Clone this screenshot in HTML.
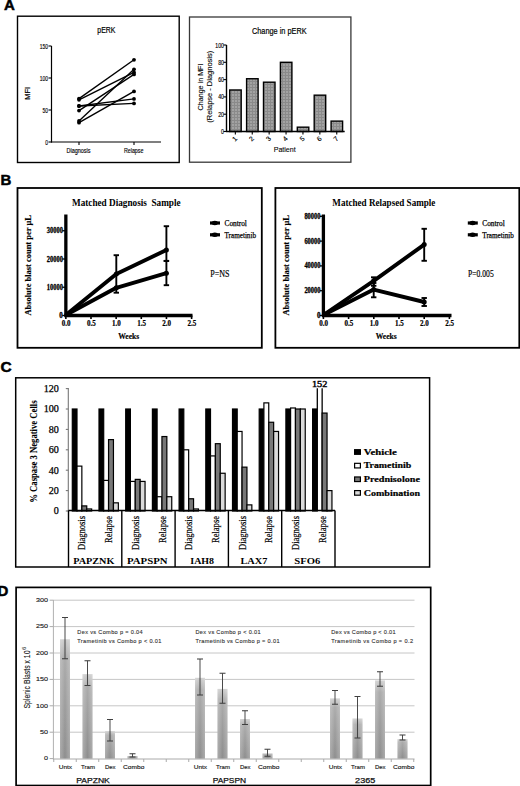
<!DOCTYPE html><html><head><meta charset="utf-8"><title>Figure</title><style>
html,body{margin:0;padding:0;background:#fff;width:520px;height:786px;overflow:hidden}
svg{display:block}
.S{font-family:"Liberation Sans",sans-serif}.R{font-family:"Liberation Serif",serif}
</style></head><body>
<svg width="520" height="786" viewBox="0 0 520 786">
<defs>
<pattern id="hatch" width="3" height="3" patternUnits="userSpaceOnUse"><rect width="3" height="3" fill="#a2a2a2"/><rect width="3" height="1" fill="#8a8a8a"/><rect width="1" height="3" fill="#8a8a8a"/></pattern>
<linearGradient id="dbar" x1="0" y1="0" x2="0" y2="1"><stop offset="0" stop-color="#cdcdcd"/><stop offset="0.15" stop-color="#ababab"/><stop offset="1" stop-color="#8e8e8e"/></linearGradient>
<linearGradient id="dbarh" x1="0" y1="0" x2="1" y2="0"><stop offset="0" stop-color="#fff" stop-opacity="0.25"/><stop offset="0.5" stop-color="#fff" stop-opacity="0"/><stop offset="1" stop-color="#fff" stop-opacity="0.25"/></linearGradient>
</defs>
<rect width="520" height="786" fill="#fff"/>
<text x="4.1" y="10.4" font-size="15" class="S" font-weight="bold" stroke="#000" stroke-width="0.5">A</text>
<rect x="17.5" y="16.2" width="161.7" height="146.3" fill="none" stroke="#000" stroke-width="1.4"/>
<text x="106.4" y="33.2" font-size="9.3" class="S" text-anchor="middle" textLength="18.2" lengthAdjust="spacingAndGlyphs" stroke="#000" stroke-width="0.2">pERK</text>
<line x1="51.5" y1="46" x2="51.5" y2="142.5" stroke="#000" stroke-width="1.2"/>
<line x1="48.5" y1="142.0" x2="51.5" y2="142.0" stroke="#000" stroke-width="1.1"/>
<text x="48" y="144.7" font-size="7.5" class="S" text-anchor="end" textLength="2.75" lengthAdjust="spacingAndGlyphs" stroke="#000" stroke-width="0.15">0</text>
<line x1="48.5" y1="110.0" x2="51.5" y2="110.0" stroke="#000" stroke-width="1.1"/>
<text x="48" y="112.7" font-size="7.5" class="S" text-anchor="end" textLength="5.5" lengthAdjust="spacingAndGlyphs" stroke="#000" stroke-width="0.15">50</text>
<line x1="48.5" y1="78.0" x2="51.5" y2="78.0" stroke="#000" stroke-width="1.1"/>
<text x="48" y="80.7" font-size="7.5" class="S" text-anchor="end" textLength="8.25" lengthAdjust="spacingAndGlyphs" stroke="#000" stroke-width="0.15">100</text>
<line x1="48.5" y1="46.0" x2="51.5" y2="46.0" stroke="#000" stroke-width="1.1"/>
<text x="48" y="48.7" font-size="7.5" class="S" text-anchor="end" textLength="8.25" lengthAdjust="spacingAndGlyphs" stroke="#000" stroke-width="0.15">150</text>
<line x1="51" y1="142" x2="161" y2="142" stroke="#000" stroke-width="1.2"/>
<line x1="79" y1="142" x2="79" y2="145" stroke="#000" stroke-width="1.1"/>
<line x1="134" y1="142" x2="134" y2="145" stroke="#000" stroke-width="1.1"/>
<text x="78.5" y="152.8" font-size="7" class="S" text-anchor="middle" textLength="24" lengthAdjust="spacingAndGlyphs" stroke="#000" stroke-width="0.15">Diagnosis</text>
<text x="133.7" y="152.8" font-size="7" class="S" text-anchor="middle" textLength="19.5" lengthAdjust="spacingAndGlyphs" stroke="#000" stroke-width="0.15">Relapse</text>
<text x="30.1" y="93.3" font-size="6.5" class="S" text-anchor="middle" textLength="12.7" lengthAdjust="spacingAndGlyphs" stroke="#000" stroke-width="0.2" transform="rotate(-90 30.1 93.3)">MFI</text>
<line x1="79" y1="98.6" x2="134" y2="59.8" stroke="#000" stroke-width="1.4"/>
<circle cx="79" cy="98.6" r="1.9" fill="#000"/>
<circle cx="134" cy="59.8" r="1.9" fill="#000"/>
<line x1="79" y1="99.8" x2="134" y2="72.4" stroke="#000" stroke-width="1.4"/>
<circle cx="79" cy="99.8" r="1.9" fill="#000"/>
<circle cx="134" cy="72.4" r="1.9" fill="#000"/>
<line x1="79" y1="121" x2="134" y2="69.3" stroke="#000" stroke-width="1.4"/>
<circle cx="79" cy="121" r="1.9" fill="#000"/>
<circle cx="134" cy="69.3" r="1.9" fill="#000"/>
<line x1="79" y1="106" x2="134" y2="98.9" stroke="#000" stroke-width="1.4"/>
<circle cx="79" cy="106" r="1.9" fill="#000"/>
<circle cx="134" cy="98.9" r="1.9" fill="#000"/>
<line x1="79" y1="106" x2="134" y2="103.4" stroke="#000" stroke-width="1.4"/>
<circle cx="79" cy="106" r="1.9" fill="#000"/>
<circle cx="134" cy="103.4" r="1.9" fill="#000"/>
<line x1="79" y1="110.6" x2="134" y2="74.4" stroke="#000" stroke-width="1.4"/>
<circle cx="79" cy="110.6" r="1.9" fill="#000"/>
<circle cx="134" cy="74.4" r="1.9" fill="#000"/>
<line x1="79" y1="122.7" x2="134" y2="91.4" stroke="#000" stroke-width="1.4"/>
<circle cx="79" cy="122.7" r="1.9" fill="#000"/>
<circle cx="134" cy="91.4" r="1.9" fill="#000"/>
<rect x="189.5" y="17" width="161.4" height="145.2" fill="none" stroke="#383838" stroke-width="1.3"/>
<text x="279.3" y="33.8" font-size="9.5" class="S" text-anchor="middle" textLength="54.6" lengthAdjust="spacingAndGlyphs" stroke="#000" stroke-width="0.2">Change in pERK</text>
<line x1="226.5" y1="45" x2="226.5" y2="132" stroke="#000" stroke-width="1.4"/>
<line x1="223.5" y1="131.5" x2="226.5" y2="131.5" stroke="#000" stroke-width="1.1"/>
<text x="224" y="134.0" font-size="7" class="S" text-anchor="end" textLength="2.9" lengthAdjust="spacingAndGlyphs" stroke="#000" stroke-width="0.15">0</text>
<line x1="223.5" y1="114.2" x2="226.5" y2="114.2" stroke="#000" stroke-width="1.1"/>
<text x="224" y="116.7" font-size="7" class="S" text-anchor="end" textLength="5.8" lengthAdjust="spacingAndGlyphs" stroke="#000" stroke-width="0.15">20</text>
<line x1="223.5" y1="96.9" x2="226.5" y2="96.9" stroke="#000" stroke-width="1.1"/>
<text x="224" y="99.4" font-size="7" class="S" text-anchor="end" textLength="5.8" lengthAdjust="spacingAndGlyphs" stroke="#000" stroke-width="0.15">40</text>
<line x1="223.5" y1="79.6" x2="226.5" y2="79.6" stroke="#000" stroke-width="1.1"/>
<text x="224" y="82.1" font-size="7" class="S" text-anchor="end" textLength="5.8" lengthAdjust="spacingAndGlyphs" stroke="#000" stroke-width="0.15">60</text>
<line x1="223.5" y1="62.3" x2="226.5" y2="62.3" stroke="#000" stroke-width="1.1"/>
<text x="224" y="64.8" font-size="7" class="S" text-anchor="end" textLength="5.8" lengthAdjust="spacingAndGlyphs" stroke="#000" stroke-width="0.15">80</text>
<line x1="223.5" y1="45.0" x2="226.5" y2="45.0" stroke="#000" stroke-width="1.1"/>
<text x="224" y="47.5" font-size="7" class="S" text-anchor="end" textLength="8.7" lengthAdjust="spacingAndGlyphs" stroke="#000" stroke-width="0.15">100</text>
<rect x="229.7" y="89.98" width="11.5" height="41.519999999999996" fill="url(#hatch)" stroke="#000" stroke-width="1.4"/>
<line x1="235.35" y1="131.5" x2="235.35" y2="134.5" stroke="#000" stroke-width="1.1"/>
<text x="236.25" y="140.5" font-size="6.8" class="S" text-anchor="middle" stroke="#000" stroke-width="0.15" transform="rotate(-45 236.25 140.5)">1</text>
<rect x="246.6" y="78.735" width="11.5" height="52.765" fill="url(#hatch)" stroke="#000" stroke-width="1.4"/>
<line x1="252.25" y1="131.5" x2="252.25" y2="134.5" stroke="#000" stroke-width="1.1"/>
<text x="253.15" y="140.5" font-size="6.8" class="S" text-anchor="middle" stroke="#000" stroke-width="0.15" transform="rotate(-45 253.15 140.5)">2</text>
<rect x="263.5" y="82.195" width="11.5" height="49.305" fill="url(#hatch)" stroke="#000" stroke-width="1.4"/>
<line x1="269.15000000000003" y1="131.5" x2="269.15000000000003" y2="134.5" stroke="#000" stroke-width="1.1"/>
<text x="270.05" y="140.5" font-size="6.8" class="S" text-anchor="middle" stroke="#000" stroke-width="0.15" transform="rotate(-45 270.05 140.5)">3</text>
<rect x="280.4" y="62.3" width="11.5" height="69.2" fill="url(#hatch)" stroke="#000" stroke-width="1.4"/>
<line x1="286.05" y1="131.5" x2="286.05" y2="134.5" stroke="#000" stroke-width="1.1"/>
<text x="286.95" y="140.5" font-size="6.8" class="S" text-anchor="middle" stroke="#000" stroke-width="0.15" transform="rotate(-45 286.95 140.5)">4</text>
<rect x="297.3" y="127.175" width="11.5" height="4.325" fill="url(#hatch)" stroke="#000" stroke-width="1.4"/>
<line x1="302.95000000000005" y1="131.5" x2="302.95000000000005" y2="134.5" stroke="#000" stroke-width="1.1"/>
<text x="303.85" y="140.5" font-size="6.8" class="S" text-anchor="middle" stroke="#000" stroke-width="0.15" transform="rotate(-45 303.85 140.5)">5</text>
<rect x="314.2" y="95.17" width="11.5" height="36.33" fill="url(#hatch)" stroke="#000" stroke-width="1.4"/>
<line x1="319.85" y1="131.5" x2="319.85" y2="134.5" stroke="#000" stroke-width="1.1"/>
<text x="320.75" y="140.5" font-size="6.8" class="S" text-anchor="middle" stroke="#000" stroke-width="0.15" transform="rotate(-45 320.75 140.5)">6</text>
<rect x="331.09999999999997" y="121.12" width="11.5" height="10.379999999999999" fill="url(#hatch)" stroke="#000" stroke-width="1.4"/>
<line x1="336.75" y1="131.5" x2="336.75" y2="134.5" stroke="#000" stroke-width="1.1"/>
<text x="337.65" y="140.5" font-size="6.8" class="S" text-anchor="middle" stroke="#000" stroke-width="0.15" transform="rotate(-45 337.65 140.5)">7</text>
<line x1="226" y1="131.5" x2="344.7" y2="131.5" stroke="#000" stroke-width="1.4"/>
<text x="284.7" y="152" font-size="8" class="S" text-anchor="middle" textLength="22" lengthAdjust="spacingAndGlyphs" stroke="#000" stroke-width="0.1">Patient</text>
<text x="203" y="87" font-size="7.6" class="S" text-anchor="middle" textLength="47" lengthAdjust="spacingAndGlyphs" stroke="#000" stroke-width="0.1" transform="rotate(-90 203 87)">Change in MFI</text>
<text x="211.5" y="86.75" font-size="7.6" class="S" text-anchor="middle" textLength="72" lengthAdjust="spacingAndGlyphs" stroke="#000" stroke-width="0.1" transform="rotate(-90 211.5 86.75)">(Relapse - Diagnosis)</text>
<text x="0.5" y="185.2" font-size="15" class="S" font-weight="bold" stroke="#000" stroke-width="0.5">B</text>
<rect x="17.5" y="188" width="244.3" height="159.8" fill="none" stroke="#000" stroke-width="1.8"/>
<text x="126.3" y="205.5" font-size="10.5" class="R" font-weight="bold" text-anchor="middle" textLength="108.6" lengthAdjust="spacingAndGlyphs" xml:space="preserve">Matched Diagnosis  Sample</text>
<line x1="65.85" y1="214.5" x2="65.85" y2="316.5" stroke="#000" stroke-width="3.3"/>
<line x1="62.349999999999994" y1="315.5" x2="65.85" y2="315.5" stroke="#000" stroke-width="1.3"/>
<text x="62.849999999999994" y="318.0" font-size="7.4" class="R" font-weight="bold" text-anchor="end" textLength="3.5" lengthAdjust="spacingAndGlyphs" stroke="#000" stroke-width="0.3">0</text>
<line x1="62.349999999999994" y1="287.25" x2="65.85" y2="287.25" stroke="#000" stroke-width="1.3"/>
<text x="62.849999999999994" y="289.75" font-size="7.4" class="R" font-weight="bold" text-anchor="end" textLength="16.0" lengthAdjust="spacingAndGlyphs" stroke="#000" stroke-width="0.3">10000</text>
<line x1="62.349999999999994" y1="259.0" x2="65.85" y2="259.0" stroke="#000" stroke-width="1.3"/>
<text x="62.849999999999994" y="261.5" font-size="7.4" class="R" font-weight="bold" text-anchor="end" textLength="16.0" lengthAdjust="spacingAndGlyphs" stroke="#000" stroke-width="0.3">20000</text>
<line x1="62.349999999999994" y1="230.75" x2="65.85" y2="230.75" stroke="#000" stroke-width="1.3"/>
<text x="62.849999999999994" y="233.25" font-size="7.4" class="R" font-weight="bold" text-anchor="end" textLength="16.0" lengthAdjust="spacingAndGlyphs" stroke="#000" stroke-width="0.3">30000</text>
<line x1="64.35" y1="315.5" x2="192.5" y2="315.5" stroke="#000" stroke-width="3.3"/>
<line x1="65.85" y1="315.5" x2="65.85" y2="319.0" stroke="#000" stroke-width="1.6"/>
<text x="66.14999999999999" y="326.3" font-size="7.8" class="R" font-weight="bold" text-anchor="middle" textLength="8.8" lengthAdjust="spacingAndGlyphs" stroke="#000" stroke-width="0.2">0.0</text>
<line x1="91.0" y1="315.5" x2="91.0" y2="319.0" stroke="#000" stroke-width="1.6"/>
<text x="91.3" y="326.3" font-size="7.8" class="R" font-weight="bold" text-anchor="middle" textLength="8.8" lengthAdjust="spacingAndGlyphs" stroke="#000" stroke-width="0.2">0.5</text>
<line x1="116.14999999999999" y1="315.5" x2="116.14999999999999" y2="319.0" stroke="#000" stroke-width="1.6"/>
<text x="116.44999999999999" y="326.3" font-size="7.8" class="R" font-weight="bold" text-anchor="middle" textLength="8.8" lengthAdjust="spacingAndGlyphs" stroke="#000" stroke-width="0.2">1.0</text>
<line x1="141.29999999999998" y1="315.5" x2="141.29999999999998" y2="319.0" stroke="#000" stroke-width="1.6"/>
<text x="141.6" y="326.3" font-size="7.8" class="R" font-weight="bold" text-anchor="middle" textLength="8.8" lengthAdjust="spacingAndGlyphs" stroke="#000" stroke-width="0.2">1.5</text>
<line x1="166.45" y1="315.5" x2="166.45" y2="319.0" stroke="#000" stroke-width="1.6"/>
<text x="166.75" y="326.3" font-size="7.8" class="R" font-weight="bold" text-anchor="middle" textLength="8.8" lengthAdjust="spacingAndGlyphs" stroke="#000" stroke-width="0.2">2.0</text>
<line x1="191.6" y1="315.5" x2="191.6" y2="319.0" stroke="#000" stroke-width="1.6"/>
<text x="191.9" y="326.3" font-size="7.8" class="R" font-weight="bold" text-anchor="middle" textLength="8.8" lengthAdjust="spacingAndGlyphs" stroke="#000" stroke-width="0.2">2.5</text>
<text x="128.64999999999998" y="338.5" font-size="7.5" class="R" font-weight="bold" text-anchor="middle" textLength="21" lengthAdjust="spacingAndGlyphs" stroke="#000" stroke-width="0.15">Weeks</text>
<path d="M65.85,315 L116.3,274 L166.4,250" fill="none" stroke="#000" stroke-width="3.9" stroke-linejoin="round"/>
<circle cx="116.3" cy="274" r="2.5" fill="#000"/>
<circle cx="166.4" cy="250" r="2.5" fill="#000"/>
<path d="M65.85,315 L116.3,287.8 L166.4,273.2" fill="none" stroke="#000" stroke-width="3.9" stroke-linejoin="round"/>
<circle cx="116.3" cy="287.8" r="2.5" fill="#000"/>
<circle cx="166.4" cy="273.2" r="2.5" fill="#000"/>
<line x1="116.3" y1="255.2" x2="116.3" y2="292.7" stroke="#000" stroke-width="1.9"/>
<line x1="113.6" y1="255.2" x2="119.0" y2="255.2" stroke="#000" stroke-width="1.9"/>
<line x1="113.6" y1="292.7" x2="119.0" y2="292.7" stroke="#000" stroke-width="1.9"/>
<line x1="166.4" y1="226.2" x2="166.4" y2="260.9" stroke="#000" stroke-width="1.9"/>
<line x1="163.70000000000002" y1="226.2" x2="169.1" y2="226.2" stroke="#000" stroke-width="1.9"/>
<line x1="163.70000000000002" y1="260.9" x2="169.1" y2="260.9" stroke="#000" stroke-width="1.9"/>
<line x1="166.4" y1="260.9" x2="166.4" y2="285.2" stroke="#000" stroke-width="1.9"/>
<line x1="163.70000000000002" y1="260.9" x2="169.1" y2="260.9" stroke="#000" stroke-width="1.9"/>
<line x1="163.70000000000002" y1="285.2" x2="169.1" y2="285.2" stroke="#000" stroke-width="1.9"/>
<line x1="210" y1="223" x2="220" y2="223" stroke="#000" stroke-width="3.2"/>
<ellipse cx="214.8" cy="223" rx="3" ry="2.2" fill="#000"/>
<text x="224.5" y="225.8" font-size="8" class="R" textLength="22.4" lengthAdjust="spacingAndGlyphs" stroke="#000" stroke-width="0.25">Control</text>
<line x1="210" y1="234.8" x2="220" y2="234.8" stroke="#000" stroke-width="3.2"/>
<ellipse cx="214.8" cy="234.8" rx="3" ry="2.2" fill="#000"/>
<text x="224.5" y="237.60000000000002" font-size="8" class="R" textLength="31.5" lengthAdjust="spacingAndGlyphs" stroke="#000" stroke-width="0.25">Trametinib</text>
<text x="210.2" y="276.8" font-size="10.3" class="R" textLength="19.2" lengthAdjust="spacingAndGlyphs" stroke="#000" stroke-width="0.2">P=NS</text>
<text x="30.6" y="265.3" font-size="7.6" class="R" font-weight="bold" text-anchor="middle" textLength="100.5" lengthAdjust="spacingAndGlyphs" stroke="#000" stroke-width="0.15" transform="rotate(-90 30.6 265.3)">Absolute blast count per µL</text>
<rect x="275.4" y="188" width="243.89999999999998" height="159.8" fill="none" stroke="#000" stroke-width="1.8"/>
<text x="383.85" y="205.5" font-size="10.5" class="R" font-weight="bold" text-anchor="middle" textLength="103.09999999999997" lengthAdjust="spacingAndGlyphs" xml:space="preserve">Matched Relapsed Sample</text>
<line x1="323.4" y1="214.5" x2="323.4" y2="316.5" stroke="#000" stroke-width="3.3"/>
<line x1="319.9" y1="315.5" x2="323.4" y2="315.5" stroke="#000" stroke-width="1.3"/>
<text x="320.4" y="318.0" font-size="7.4" class="R" font-weight="bold" text-anchor="end" textLength="3.5" lengthAdjust="spacingAndGlyphs" stroke="#000" stroke-width="0.3">0</text>
<line x1="319.9" y1="290.7" x2="323.4" y2="290.7" stroke="#000" stroke-width="1.3"/>
<text x="320.4" y="293.2" font-size="7.4" class="R" font-weight="bold" text-anchor="end" textLength="16.0" lengthAdjust="spacingAndGlyphs" stroke="#000" stroke-width="0.3">20000</text>
<line x1="319.9" y1="265.9" x2="323.4" y2="265.9" stroke="#000" stroke-width="1.3"/>
<text x="320.4" y="268.4" font-size="7.4" class="R" font-weight="bold" text-anchor="end" textLength="16.0" lengthAdjust="spacingAndGlyphs" stroke="#000" stroke-width="0.3">40000</text>
<line x1="319.9" y1="241.1" x2="323.4" y2="241.1" stroke="#000" stroke-width="1.3"/>
<text x="320.4" y="243.6" font-size="7.4" class="R" font-weight="bold" text-anchor="end" textLength="16.0" lengthAdjust="spacingAndGlyphs" stroke="#000" stroke-width="0.3">60000</text>
<line x1="319.9" y1="216.3" x2="323.4" y2="216.3" stroke="#000" stroke-width="1.3"/>
<text x="320.4" y="218.8" font-size="7.4" class="R" font-weight="bold" text-anchor="end" textLength="16.0" lengthAdjust="spacingAndGlyphs" stroke="#000" stroke-width="0.3">80000</text>
<line x1="321.9" y1="315.5" x2="451.5" y2="315.5" stroke="#000" stroke-width="3.3"/>
<line x1="323.4" y1="315.5" x2="323.4" y2="319.0" stroke="#000" stroke-width="1.6"/>
<text x="323.7" y="326.3" font-size="7.8" class="R" font-weight="bold" text-anchor="middle" textLength="8.8" lengthAdjust="spacingAndGlyphs" stroke="#000" stroke-width="0.2">0.0</text>
<line x1="348.59999999999997" y1="315.5" x2="348.59999999999997" y2="319.0" stroke="#000" stroke-width="1.6"/>
<text x="348.9" y="326.3" font-size="7.8" class="R" font-weight="bold" text-anchor="middle" textLength="8.8" lengthAdjust="spacingAndGlyphs" stroke="#000" stroke-width="0.2">0.5</text>
<line x1="373.79999999999995" y1="315.5" x2="373.79999999999995" y2="319.0" stroke="#000" stroke-width="1.6"/>
<text x="374.09999999999997" y="326.3" font-size="7.8" class="R" font-weight="bold" text-anchor="middle" textLength="8.8" lengthAdjust="spacingAndGlyphs" stroke="#000" stroke-width="0.2">1.0</text>
<line x1="399.0" y1="315.5" x2="399.0" y2="319.0" stroke="#000" stroke-width="1.6"/>
<text x="399.3" y="326.3" font-size="7.8" class="R" font-weight="bold" text-anchor="middle" textLength="8.8" lengthAdjust="spacingAndGlyphs" stroke="#000" stroke-width="0.2">1.5</text>
<line x1="424.2" y1="315.5" x2="424.2" y2="319.0" stroke="#000" stroke-width="1.6"/>
<text x="424.5" y="326.3" font-size="7.8" class="R" font-weight="bold" text-anchor="middle" textLength="8.8" lengthAdjust="spacingAndGlyphs" stroke="#000" stroke-width="0.2">2.0</text>
<line x1="449.4" y1="315.5" x2="449.4" y2="319.0" stroke="#000" stroke-width="1.6"/>
<text x="449.7" y="326.3" font-size="7.8" class="R" font-weight="bold" text-anchor="middle" textLength="8.8" lengthAdjust="spacingAndGlyphs" stroke="#000" stroke-width="0.2">2.5</text>
<text x="386.2" y="338.5" font-size="7.5" class="R" font-weight="bold" text-anchor="middle" textLength="21" lengthAdjust="spacingAndGlyphs" stroke="#000" stroke-width="0.15">Weeks</text>
<path d="M323.4,315 L373.7,280.8 L424.2,244.6" fill="none" stroke="#000" stroke-width="3.9" stroke-linejoin="round"/>
<circle cx="373.7" cy="280.8" r="2.5" fill="#000"/>
<circle cx="424.2" cy="244.6" r="2.5" fill="#000"/>
<path d="M323.4,315 L373.7,289.6 L424.2,302" fill="none" stroke="#000" stroke-width="3.9" stroke-linejoin="round"/>
<circle cx="373.7" cy="289.6" r="2.5" fill="#000"/>
<circle cx="424.2" cy="302" r="2.5" fill="#000"/>
<line x1="373.7" y1="277.3" x2="373.7" y2="285.8" stroke="#000" stroke-width="1.9"/>
<line x1="371.0" y1="277.3" x2="376.4" y2="277.3" stroke="#000" stroke-width="1.9"/>
<line x1="371.0" y1="285.8" x2="376.4" y2="285.8" stroke="#000" stroke-width="1.9"/>
<line x1="424.2" y1="228.8" x2="424.2" y2="260.8" stroke="#000" stroke-width="1.9"/>
<line x1="421.5" y1="228.8" x2="426.9" y2="228.8" stroke="#000" stroke-width="1.9"/>
<line x1="421.5" y1="260.8" x2="426.9" y2="260.8" stroke="#000" stroke-width="1.9"/>
<line x1="373.7" y1="283" x2="373.7" y2="297.3" stroke="#000" stroke-width="1.9"/>
<line x1="371.0" y1="283" x2="376.4" y2="283" stroke="#000" stroke-width="1.9"/>
<line x1="371.0" y1="297.3" x2="376.4" y2="297.3" stroke="#000" stroke-width="1.9"/>
<line x1="424.2" y1="298" x2="424.2" y2="306" stroke="#000" stroke-width="1.9"/>
<line x1="421.5" y1="298" x2="426.9" y2="298" stroke="#000" stroke-width="1.9"/>
<line x1="421.5" y1="306" x2="426.9" y2="306" stroke="#000" stroke-width="1.9"/>
<line x1="467.8" y1="223" x2="477.8" y2="223" stroke="#000" stroke-width="3.2"/>
<ellipse cx="472.6" cy="223" rx="3" ry="2.2" fill="#000"/>
<text x="482.3" y="225.8" font-size="8" class="R" textLength="22.4" lengthAdjust="spacingAndGlyphs" stroke="#000" stroke-width="0.25">Control</text>
<line x1="467.8" y1="234.8" x2="477.8" y2="234.8" stroke="#000" stroke-width="3.2"/>
<ellipse cx="472.6" cy="234.8" rx="3" ry="2.2" fill="#000"/>
<text x="482.3" y="237.60000000000002" font-size="8" class="R" textLength="31.5" lengthAdjust="spacingAndGlyphs" stroke="#000" stroke-width="0.25">Trametinib</text>
<text x="468.0" y="276.8" font-size="10.3" class="R" textLength="25.7" lengthAdjust="spacingAndGlyphs" stroke="#000" stroke-width="0.2">P=0.005</text>
<text x="288.6" y="265.3" font-size="7.6" class="R" font-weight="bold" text-anchor="middle" textLength="100.5" lengthAdjust="spacingAndGlyphs" stroke="#000" stroke-width="0.15" transform="rotate(-90 288.6 265.3)">Absolute blast count per µL</text>
<text x="0.6" y="371.5" font-size="15.5" class="S" font-weight="bold" stroke="#000" stroke-width="0.5">C</text>
<rect x="15.7" y="377.8" width="413.9" height="189.2" fill="none" stroke="#000" stroke-width="1.5"/>
<line x1="68.3" y1="388" x2="68.3" y2="511" stroke="#777" stroke-width="1.1"/>
<line x1="65.8" y1="511.0" x2="68.3" y2="511.0" stroke="#777" stroke-width="1.1"/>
<text x="58.8" y="514.4" font-size="10" class="R" text-anchor="end" textLength="5.05" lengthAdjust="spacingAndGlyphs" stroke="#000" stroke-width="0.25">0</text>
<line x1="65.8" y1="490.6" x2="68.3" y2="490.6" stroke="#777" stroke-width="1.1"/>
<text x="58.8" y="494.0" font-size="10" class="R" text-anchor="end" textLength="10.1" lengthAdjust="spacingAndGlyphs" stroke="#000" stroke-width="0.25">20</text>
<line x1="65.8" y1="470.2" x2="68.3" y2="470.2" stroke="#777" stroke-width="1.1"/>
<text x="58.8" y="473.59999999999997" font-size="10" class="R" text-anchor="end" textLength="10.1" lengthAdjust="spacingAndGlyphs" stroke="#000" stroke-width="0.25">40</text>
<line x1="65.8" y1="449.8" x2="68.3" y2="449.8" stroke="#777" stroke-width="1.1"/>
<text x="58.8" y="453.2" font-size="10" class="R" text-anchor="end" textLength="10.1" lengthAdjust="spacingAndGlyphs" stroke="#000" stroke-width="0.25">60</text>
<line x1="65.8" y1="429.4" x2="68.3" y2="429.4" stroke="#777" stroke-width="1.1"/>
<text x="58.8" y="432.79999999999995" font-size="10" class="R" text-anchor="end" textLength="10.1" lengthAdjust="spacingAndGlyphs" stroke="#000" stroke-width="0.25">80</text>
<line x1="65.8" y1="409.0" x2="68.3" y2="409.0" stroke="#777" stroke-width="1.1"/>
<text x="58.8" y="412.4" font-size="10" class="R" text-anchor="end" textLength="15.149999999999999" lengthAdjust="spacingAndGlyphs" stroke="#000" stroke-width="0.25">100</text>
<line x1="65.8" y1="388.6" x2="68.3" y2="388.6" stroke="#777" stroke-width="1.1"/>
<text x="58.8" y="392.0" font-size="10" class="R" text-anchor="end" textLength="15.149999999999999" lengthAdjust="spacingAndGlyphs" stroke="#000" stroke-width="0.25">120</text>
<rect x="72.3" y="409.0" width="4.700000000000003" height="102.0" fill="#000" stroke="#000" stroke-width="1.2"/>
<rect x="77.0" y="466.12" width="4.8500000000000085" height="44.879999999999995" fill="#fff" stroke="#000" stroke-width="1.2"/>
<rect x="81.85000000000001" y="505.9" width="4.8999999999999915" height="5.100000000000023" fill="#787878" stroke="#000" stroke-width="1.2"/>
<rect x="86.75" y="508.96" width="4.900000000000006" height="2.0400000000000205" fill="#dadada" stroke="#000" stroke-width="1.2"/>
<text x="85.4" y="516" font-size="9.5" class="R" text-anchor="end" textLength="34" lengthAdjust="spacingAndGlyphs" stroke="#000" stroke-width="0.2" transform="rotate(-90 85.4 516)">Diagnosis</text>
<rect x="99.0" y="409.0" width="4.700000000000003" height="102.0" fill="#000" stroke="#000" stroke-width="1.2"/>
<rect x="103.7" y="480.4" width="4.8500000000000085" height="30.600000000000023" fill="#fff" stroke="#000" stroke-width="1.2"/>
<rect x="108.55000000000001" y="439.6" width="4.8999999999999915" height="71.39999999999998" fill="#787878" stroke="#000" stroke-width="1.2"/>
<rect x="113.45" y="502.84" width="4.900000000000006" height="8.160000000000025" fill="#dadada" stroke="#000" stroke-width="1.2"/>
<text x="112.10000000000001" y="516" font-size="9.5" class="R" text-anchor="end" textLength="27" lengthAdjust="spacingAndGlyphs" stroke="#000" stroke-width="0.2" transform="rotate(-90 112.10000000000001 516)">Relapse</text>
<rect x="125.69999999999999" y="409.0" width="4.700000000000017" height="102.0" fill="#000" stroke="#000" stroke-width="1.2"/>
<rect x="130.4" y="481.42" width="4.849999999999994" height="29.579999999999984" fill="#fff" stroke="#000" stroke-width="1.2"/>
<rect x="135.25" y="479.38" width="4.900000000000006" height="31.620000000000005" fill="#787878" stroke="#000" stroke-width="1.2"/>
<rect x="140.15" y="481.42" width="4.899999999999977" height="29.579999999999984" fill="#dadada" stroke="#000" stroke-width="1.2"/>
<text x="138.79999999999998" y="516" font-size="9.5" class="R" text-anchor="end" textLength="34" lengthAdjust="spacingAndGlyphs" stroke="#000" stroke-width="0.2" transform="rotate(-90 138.79999999999998 516)">Diagnosis</text>
<rect x="152.4" y="409.0" width="4.700000000000017" height="102.0" fill="#000" stroke="#000" stroke-width="1.2"/>
<rect x="157.10000000000002" y="496.72" width="4.849999999999994" height="14.279999999999973" fill="#fff" stroke="#000" stroke-width="1.2"/>
<rect x="161.95000000000002" y="436.53999999999996" width="4.900000000000006" height="74.46000000000004" fill="#787878" stroke="#000" stroke-width="1.2"/>
<rect x="166.85000000000002" y="496.72" width="4.899999999999977" height="14.279999999999973" fill="#dadada" stroke="#000" stroke-width="1.2"/>
<text x="165.5" y="516" font-size="9.5" class="R" text-anchor="end" textLength="27" lengthAdjust="spacingAndGlyphs" stroke="#000" stroke-width="0.2" transform="rotate(-90 165.5 516)">Relapse</text>
<rect x="179.1" y="409.0" width="4.700000000000017" height="102.0" fill="#000" stroke="#000" stroke-width="1.2"/>
<rect x="183.8" y="449.8" width="4.849999999999994" height="61.19999999999999" fill="#fff" stroke="#000" stroke-width="1.2"/>
<rect x="188.65" y="498.76" width="4.900000000000006" height="12.240000000000009" fill="#787878" stroke="#000" stroke-width="1.2"/>
<rect x="193.55" y="508.96" width="4.899999999999977" height="2.0400000000000205" fill="#dadada" stroke="#000" stroke-width="1.2"/>
<text x="192.2" y="516" font-size="9.5" class="R" text-anchor="end" textLength="34" lengthAdjust="spacingAndGlyphs" stroke="#000" stroke-width="0.2" transform="rotate(-90 192.2 516)">Diagnosis</text>
<rect x="205.79999999999998" y="409.0" width="4.700000000000017" height="102.0" fill="#000" stroke="#000" stroke-width="1.2"/>
<rect x="210.5" y="455.92" width="4.849999999999994" height="55.079999999999984" fill="#fff" stroke="#000" stroke-width="1.2"/>
<rect x="215.35" y="443.68" width="4.900000000000006" height="67.32" fill="#787878" stroke="#000" stroke-width="1.2"/>
<rect x="220.25" y="473.26" width="4.899999999999977" height="37.74000000000001" fill="#dadada" stroke="#000" stroke-width="1.2"/>
<text x="218.89999999999998" y="516" font-size="9.5" class="R" text-anchor="end" textLength="27" lengthAdjust="spacingAndGlyphs" stroke="#000" stroke-width="0.2" transform="rotate(-90 218.89999999999998 516)">Relapse</text>
<rect x="232.49999999999997" y="409.0" width="4.700000000000017" height="102.0" fill="#000" stroke="#000" stroke-width="1.2"/>
<rect x="237.2" y="431.44" width="4.849999999999994" height="79.56" fill="#fff" stroke="#000" stroke-width="1.2"/>
<rect x="242.04999999999998" y="467.14" width="4.900000000000006" height="43.860000000000014" fill="#787878" stroke="#000" stroke-width="1.2"/>
<rect x="246.95" y="504.88" width="4.899999999999977" height="6.1200000000000045" fill="#dadada" stroke="#000" stroke-width="1.2"/>
<text x="245.59999999999997" y="516" font-size="9.5" class="R" text-anchor="end" textLength="34" lengthAdjust="spacingAndGlyphs" stroke="#000" stroke-width="0.2" transform="rotate(-90 245.59999999999997 516)">Diagnosis</text>
<rect x="259.20000000000005" y="409.0" width="4.699999999999989" height="102.0" fill="#000" stroke="#000" stroke-width="1.2"/>
<rect x="263.90000000000003" y="402.88" width="4.849999999999966" height="108.12" fill="#fff" stroke="#000" stroke-width="1.2"/>
<rect x="268.75" y="422.26" width="4.900000000000034" height="88.74000000000001" fill="#787878" stroke="#000" stroke-width="1.2"/>
<rect x="273.65000000000003" y="431.44" width="4.899999999999977" height="79.56" fill="#dadada" stroke="#000" stroke-width="1.2"/>
<text x="272.3" y="516" font-size="9.5" class="R" text-anchor="end" textLength="27" lengthAdjust="spacingAndGlyphs" stroke="#000" stroke-width="0.2" transform="rotate(-90 272.3 516)">Relapse</text>
<rect x="285.90000000000003" y="409.0" width="4.699999999999989" height="102.0" fill="#000" stroke="#000" stroke-width="1.2"/>
<rect x="290.6" y="407.98" width="4.849999999999966" height="103.01999999999998" fill="#fff" stroke="#000" stroke-width="1.2"/>
<rect x="295.45" y="409.0" width="4.900000000000034" height="102.0" fill="#787878" stroke="#000" stroke-width="1.2"/>
<rect x="300.35" y="409.0" width="4.899999999999977" height="102.0" fill="#dadada" stroke="#000" stroke-width="1.2"/>
<text x="299.0" y="516" font-size="9.5" class="R" text-anchor="end" textLength="34" lengthAdjust="spacingAndGlyphs" stroke="#000" stroke-width="0.2" transform="rotate(-90 299.0 516)">Diagnosis</text>
<rect x="312.6" y="409.0" width="4.699999999999989" height="102.0" fill="#000" stroke="#000" stroke-width="1.2"/>
<rect x="317.3" y="388.5" width="4.849999999999966" height="122.5" fill="#fff" stroke="none" stroke-width="1"/>
<line x1="317.3" y1="388.3" x2="317.3" y2="511" stroke="#000" stroke-width="1.3"/>
<line x1="322.15" y1="388.3" x2="322.15" y2="511" stroke="#000" stroke-width="1.3"/>
<rect x="322.15" y="413.08" width="4.900000000000034" height="97.92000000000002" fill="#787878" stroke="#000" stroke-width="1.2"/>
<rect x="327.05" y="490.6" width="4.899999999999977" height="20.399999999999977" fill="#dadada" stroke="#000" stroke-width="1.2"/>
<text x="325.7" y="516" font-size="9.5" class="R" text-anchor="end" textLength="27" lengthAdjust="spacingAndGlyphs" stroke="#000" stroke-width="0.2" transform="rotate(-90 325.7 516)">Relapse</text>
<text x="319.6" y="386.7" font-size="8.8" class="R" text-anchor="middle" textLength="15.4" lengthAdjust="spacingAndGlyphs" stroke="#000" stroke-width="0.4">152</text>
<line x1="68.5" y1="510.5" x2="335" y2="510.5" stroke="#000" stroke-width="1.4"/>
<line x1="68.5" y1="510.5" x2="68.5" y2="567" stroke="#000" stroke-width="1.4"/>
<line x1="121.8" y1="510.5" x2="121.8" y2="567" stroke="#000" stroke-width="1.4"/>
<line x1="175.1" y1="510.5" x2="175.1" y2="567" stroke="#000" stroke-width="1.4"/>
<line x1="228.39999999999998" y1="510.5" x2="228.39999999999998" y2="567" stroke="#000" stroke-width="1.4"/>
<line x1="281.7" y1="510.5" x2="281.7" y2="567" stroke="#000" stroke-width="1.4"/>
<line x1="335.0" y1="510.5" x2="335.0" y2="567" stroke="#000" stroke-width="1.4"/>
<text x="93.8" y="564.4" font-size="8.6" class="R" font-weight="bold" text-anchor="middle" textLength="41.2" lengthAdjust="spacingAndGlyphs">PAPZNK</text>
<text x="147.3" y="564.4" font-size="8.6" class="R" font-weight="bold" text-anchor="middle" textLength="40.5" lengthAdjust="spacingAndGlyphs">PAPSPN</text>
<text x="202.2" y="564.4" font-size="8.6" class="R" font-weight="bold" text-anchor="middle" textLength="23.8" lengthAdjust="spacingAndGlyphs">IAH8</text>
<text x="253.9" y="564.4" font-size="8.6" class="R" font-weight="bold" text-anchor="middle" textLength="27" lengthAdjust="spacingAndGlyphs">LAX7</text>
<text x="307.3" y="564.4" font-size="8.6" class="R" font-weight="bold" text-anchor="middle" textLength="26" lengthAdjust="spacingAndGlyphs">SFO6</text>
<text x="37.2" y="451.6" font-size="9.6" class="R" font-weight="bold" text-anchor="middle" textLength="102.3" lengthAdjust="spacingAndGlyphs" stroke="#000" stroke-width="0.1" transform="rotate(-90 37.2 451.6)">% Caspase 3 Negative Cells</text>
<rect x="354.6" y="449.7" width="5.8" height="4.6" fill="#000" stroke="#000" stroke-width="1.2"/>
<text x="363.7" y="454.7" font-size="8.2" class="R" font-weight="bold" textLength="33.2" lengthAdjust="spacingAndGlyphs" stroke="#000" stroke-width="0.2">Vehicle</text>
<rect x="354.6" y="463.33" width="5.8" height="4.6" fill="#fff" stroke="#000" stroke-width="1.2"/>
<text x="363.7" y="468.33" font-size="8.2" class="R" font-weight="bold" textLength="47.6" lengthAdjust="spacingAndGlyphs" stroke="#000" stroke-width="0.2">Trametinib</text>
<rect x="354.6" y="476.96" width="5.8" height="4.6" fill="#787878" stroke="#000" stroke-width="1.2"/>
<text x="363.7" y="481.96" font-size="8.2" class="R" font-weight="bold" textLength="56.3" lengthAdjust="spacingAndGlyphs" stroke="#000" stroke-width="0.2">Prednisolone</text>
<rect x="354.6" y="490.59" width="5.8" height="4.6" fill="#dadada" stroke="#000" stroke-width="1.2"/>
<text x="363.7" y="495.59" font-size="8.2" class="R" font-weight="bold" textLength="56.3" lengthAdjust="spacingAndGlyphs" stroke="#000" stroke-width="0.2">Combination</text>
<text x="-2.4" y="596.4" font-size="15" class="S" font-weight="bold" stroke="#000" stroke-width="0.5">D</text>
<rect x="16.1" y="587.4" width="414.6" height="198.1" fill="none" stroke="#000" stroke-width="1.7"/>
<line x1="53.5" y1="732.2" x2="414.5" y2="732.2" stroke="#c6c6c6" stroke-width="1"/>
<line x1="53.5" y1="705.8000000000001" x2="414.5" y2="705.8000000000001" stroke="#c6c6c6" stroke-width="1"/>
<line x1="53.5" y1="679.4" x2="414.5" y2="679.4" stroke="#c6c6c6" stroke-width="1"/>
<line x1="53.5" y1="653.0" x2="414.5" y2="653.0" stroke="#c6c6c6" stroke-width="1"/>
<line x1="53.5" y1="626.6" x2="414.5" y2="626.6" stroke="#c6c6c6" stroke-width="1"/>
<line x1="53.5" y1="600.2" x2="414.5" y2="600.2" stroke="#c6c6c6" stroke-width="1"/>
<line x1="49.6" y1="758.6" x2="53.5" y2="758.6" stroke="#aaa" stroke-width="1"/>
<text x="47.9" y="760.3000000000001" font-size="5.9" class="S" text-anchor="end" textLength="4.0" lengthAdjust="spacingAndGlyphs" fill="#222" stroke="#222" stroke-width="0.15">0</text>
<line x1="49.6" y1="732.2" x2="53.5" y2="732.2" stroke="#aaa" stroke-width="1"/>
<text x="47.9" y="733.9000000000001" font-size="5.9" class="S" text-anchor="end" textLength="8.0" lengthAdjust="spacingAndGlyphs" fill="#222" stroke="#222" stroke-width="0.15">50</text>
<line x1="49.6" y1="705.8000000000001" x2="53.5" y2="705.8000000000001" stroke="#aaa" stroke-width="1"/>
<text x="47.9" y="707.5000000000001" font-size="5.9" class="S" text-anchor="end" textLength="12.0" lengthAdjust="spacingAndGlyphs" fill="#222" stroke="#222" stroke-width="0.15">100</text>
<line x1="49.6" y1="679.4" x2="53.5" y2="679.4" stroke="#aaa" stroke-width="1"/>
<text x="47.9" y="681.1" font-size="5.9" class="S" text-anchor="end" textLength="12.0" lengthAdjust="spacingAndGlyphs" fill="#222" stroke="#222" stroke-width="0.15">150</text>
<line x1="49.6" y1="653.0" x2="53.5" y2="653.0" stroke="#aaa" stroke-width="1"/>
<text x="47.9" y="654.7" font-size="5.9" class="S" text-anchor="end" textLength="12.0" lengthAdjust="spacingAndGlyphs" fill="#222" stroke="#222" stroke-width="0.15">200</text>
<line x1="49.6" y1="626.6" x2="53.5" y2="626.6" stroke="#aaa" stroke-width="1"/>
<text x="47.9" y="628.3000000000001" font-size="5.9" class="S" text-anchor="end" textLength="12.0" lengthAdjust="spacingAndGlyphs" fill="#222" stroke="#222" stroke-width="0.15">250</text>
<line x1="49.6" y1="600.2" x2="53.5" y2="600.2" stroke="#aaa" stroke-width="1"/>
<text x="47.9" y="601.9000000000001" font-size="5.9" class="S" text-anchor="end" textLength="12.0" lengthAdjust="spacingAndGlyphs" fill="#222" stroke="#222" stroke-width="0.15">300</text>
<line x1="53.4" y1="600" x2="53.4" y2="759.5" stroke="#b0b0b0" stroke-width="1"/>
<line x1="53" y1="759" x2="414.5" y2="759" stroke="#aaa" stroke-width="1"/>
<line x1="53.75" y1="759" x2="53.75" y2="762" stroke="#aaa" stroke-width="1"/>
<line x1="76.25" y1="759" x2="76.25" y2="762" stroke="#aaa" stroke-width="1"/>
<line x1="98.75" y1="759" x2="98.75" y2="762" stroke="#aaa" stroke-width="1"/>
<line x1="121.25" y1="759" x2="121.25" y2="762" stroke="#aaa" stroke-width="1"/>
<line x1="143.75" y1="759" x2="143.75" y2="762" stroke="#aaa" stroke-width="1"/>
<line x1="166.25" y1="759" x2="166.25" y2="762" stroke="#aaa" stroke-width="1"/>
<line x1="188.75" y1="759" x2="188.75" y2="762" stroke="#aaa" stroke-width="1"/>
<line x1="211.25" y1="759" x2="211.25" y2="762" stroke="#aaa" stroke-width="1"/>
<line x1="233.75" y1="759" x2="233.75" y2="762" stroke="#aaa" stroke-width="1"/>
<line x1="256.25" y1="759" x2="256.25" y2="762" stroke="#aaa" stroke-width="1"/>
<line x1="278.75" y1="759" x2="278.75" y2="762" stroke="#aaa" stroke-width="1"/>
<line x1="301.25" y1="759" x2="301.25" y2="762" stroke="#aaa" stroke-width="1"/>
<line x1="323.75" y1="759" x2="323.75" y2="762" stroke="#aaa" stroke-width="1"/>
<line x1="346.25" y1="759" x2="346.25" y2="762" stroke="#aaa" stroke-width="1"/>
<line x1="368.75" y1="759" x2="368.75" y2="762" stroke="#aaa" stroke-width="1"/>
<line x1="391.25" y1="759" x2="391.25" y2="762" stroke="#aaa" stroke-width="1"/>
<line x1="413.75" y1="759" x2="413.75" y2="762" stroke="#aaa" stroke-width="1"/>
<rect x="60.0" y="639.272" width="10" height="119.32799999999997" fill="url(#dbar)" stroke="none" stroke-width="1"/>
<rect x="60.0" y="639.272" width="10" height="119.32799999999997" fill="url(#dbarh)" stroke="none" stroke-width="1"/>
<line x1="65.0" y1="617.5" x2="65.0" y2="658.75" stroke="#404040" stroke-width="0.95"/>
<line x1="62.0" y1="617.5" x2="68.0" y2="617.5" stroke="#404040" stroke-width="1.05"/>
<line x1="62.0" y1="658.75" x2="68.0" y2="658.75" stroke="#404040" stroke-width="1.05"/>
<text x="65.4" y="769.3" font-size="5.5" class="S" text-anchor="middle" textLength="13.4" lengthAdjust="spacingAndGlyphs" fill="#222" stroke="#222" stroke-width="0.15">Untx</text>
<rect x="82.5" y="674.12" width="10" height="84.48000000000002" fill="url(#dbar)" stroke="none" stroke-width="1"/>
<rect x="82.5" y="674.12" width="10" height="84.48000000000002" fill="url(#dbarh)" stroke="none" stroke-width="1"/>
<line x1="87.5" y1="660.75" x2="87.5" y2="685.5" stroke="#404040" stroke-width="0.95"/>
<line x1="84.5" y1="660.75" x2="90.5" y2="660.75" stroke="#404040" stroke-width="1.05"/>
<line x1="84.5" y1="685.5" x2="90.5" y2="685.5" stroke="#404040" stroke-width="1.05"/>
<text x="88.0" y="769.3" font-size="5.5" class="S" text-anchor="middle" textLength="13.9" lengthAdjust="spacingAndGlyphs" fill="#222" stroke="#222" stroke-width="0.15">Tram</text>
<rect x="105.0" y="731.144" width="10" height="27.456000000000017" fill="url(#dbar)" stroke="none" stroke-width="1"/>
<rect x="105.0" y="731.144" width="10" height="27.456000000000017" fill="url(#dbarh)" stroke="none" stroke-width="1"/>
<line x1="110.0" y1="719.5" x2="110.0" y2="741" stroke="#404040" stroke-width="0.95"/>
<line x1="107.0" y1="719.5" x2="113.0" y2="719.5" stroke="#404040" stroke-width="1.05"/>
<line x1="107.0" y1="741" x2="113.0" y2="741" stroke="#404040" stroke-width="1.05"/>
<text x="110.3" y="769.3" font-size="5.5" class="S" text-anchor="middle" textLength="10.6" lengthAdjust="spacingAndGlyphs" fill="#222" stroke="#222" stroke-width="0.15">Dex</text>
<rect x="127.5" y="755.96" width="10" height="2.6399999999999864" fill="url(#dbar)" stroke="none" stroke-width="1"/>
<rect x="127.5" y="755.96" width="10" height="2.6399999999999864" fill="url(#dbarh)" stroke="none" stroke-width="1"/>
<line x1="132.5" y1="753.75" x2="132.5" y2="757" stroke="#404040" stroke-width="0.95"/>
<line x1="129.5" y1="753.75" x2="135.5" y2="753.75" stroke="#404040" stroke-width="1.05"/>
<line x1="129.5" y1="757" x2="135.5" y2="757" stroke="#404040" stroke-width="1.05"/>
<text x="133.7" y="769.3" font-size="5.5" class="S" text-anchor="middle" textLength="21.2" lengthAdjust="spacingAndGlyphs" fill="#222" stroke="#222" stroke-width="0.15">Combo</text>
<rect x="195.0" y="677.816" width="10" height="80.78399999999999" fill="url(#dbar)" stroke="none" stroke-width="1"/>
<rect x="195.0" y="677.816" width="10" height="80.78399999999999" fill="url(#dbarh)" stroke="none" stroke-width="1"/>
<line x1="200.0" y1="659" x2="200.0" y2="695" stroke="#404040" stroke-width="0.95"/>
<line x1="197.0" y1="659" x2="203.0" y2="659" stroke="#404040" stroke-width="1.05"/>
<line x1="197.0" y1="695" x2="203.0" y2="695" stroke="#404040" stroke-width="1.05"/>
<text x="200.4" y="769.3" font-size="5.5" class="S" text-anchor="middle" textLength="13.4" lengthAdjust="spacingAndGlyphs" fill="#222" stroke="#222" stroke-width="0.15">Untx</text>
<rect x="217.5" y="688.904" width="10" height="69.69600000000003" fill="url(#dbar)" stroke="none" stroke-width="1"/>
<rect x="217.5" y="688.904" width="10" height="69.69600000000003" fill="url(#dbarh)" stroke="none" stroke-width="1"/>
<line x1="222.5" y1="673.25" x2="222.5" y2="703.25" stroke="#404040" stroke-width="0.95"/>
<line x1="219.5" y1="673.25" x2="225.5" y2="673.25" stroke="#404040" stroke-width="1.05"/>
<line x1="219.5" y1="703.25" x2="225.5" y2="703.25" stroke="#404040" stroke-width="1.05"/>
<text x="223.0" y="769.3" font-size="5.5" class="S" text-anchor="middle" textLength="13.9" lengthAdjust="spacingAndGlyphs" fill="#222" stroke="#222" stroke-width="0.15">Tram</text>
<rect x="240.0" y="719.0" width="10" height="39.60000000000002" fill="url(#dbar)" stroke="none" stroke-width="1"/>
<rect x="240.0" y="719.0" width="10" height="39.60000000000002" fill="url(#dbarh)" stroke="none" stroke-width="1"/>
<line x1="245.0" y1="710.75" x2="245.0" y2="724.5" stroke="#404040" stroke-width="0.95"/>
<line x1="242.0" y1="710.75" x2="248.0" y2="710.75" stroke="#404040" stroke-width="1.05"/>
<line x1="242.0" y1="724.5" x2="248.0" y2="724.5" stroke="#404040" stroke-width="1.05"/>
<text x="245.3" y="769.3" font-size="5.5" class="S" text-anchor="middle" textLength="10.6" lengthAdjust="spacingAndGlyphs" fill="#222" stroke="#222" stroke-width="0.15">Dex</text>
<rect x="262.5" y="753.32" width="10" height="5.279999999999973" fill="url(#dbar)" stroke="none" stroke-width="1"/>
<rect x="262.5" y="753.32" width="10" height="5.279999999999973" fill="url(#dbarh)" stroke="none" stroke-width="1"/>
<line x1="267.5" y1="749.25" x2="267.5" y2="756.25" stroke="#404040" stroke-width="0.95"/>
<line x1="264.5" y1="749.25" x2="270.5" y2="749.25" stroke="#404040" stroke-width="1.05"/>
<line x1="264.5" y1="756.25" x2="270.5" y2="756.25" stroke="#404040" stroke-width="1.05"/>
<text x="268.7" y="769.3" font-size="5.5" class="S" text-anchor="middle" textLength="21.2" lengthAdjust="spacingAndGlyphs" fill="#222" stroke="#222" stroke-width="0.15">Combo</text>
<rect x="330.0" y="698.408" width="10" height="60.19200000000001" fill="url(#dbar)" stroke="none" stroke-width="1"/>
<rect x="330.0" y="698.408" width="10" height="60.19200000000001" fill="url(#dbarh)" stroke="none" stroke-width="1"/>
<line x1="335.0" y1="690.5" x2="335.0" y2="704.25" stroke="#404040" stroke-width="0.95"/>
<line x1="332.0" y1="690.5" x2="338.0" y2="690.5" stroke="#404040" stroke-width="1.05"/>
<line x1="332.0" y1="704.25" x2="338.0" y2="704.25" stroke="#404040" stroke-width="1.05"/>
<text x="335.4" y="769.3" font-size="5.5" class="S" text-anchor="middle" textLength="13.4" lengthAdjust="spacingAndGlyphs" fill="#222" stroke="#222" stroke-width="0.15">Untx</text>
<rect x="352.5" y="718.472" width="10" height="40.12800000000004" fill="url(#dbar)" stroke="none" stroke-width="1"/>
<rect x="352.5" y="718.472" width="10" height="40.12800000000004" fill="url(#dbarh)" stroke="none" stroke-width="1"/>
<line x1="357.5" y1="696.5" x2="357.5" y2="738" stroke="#404040" stroke-width="0.95"/>
<line x1="354.5" y1="696.5" x2="360.5" y2="696.5" stroke="#404040" stroke-width="1.05"/>
<line x1="354.5" y1="738" x2="360.5" y2="738" stroke="#404040" stroke-width="1.05"/>
<text x="358.0" y="769.3" font-size="5.5" class="S" text-anchor="middle" textLength="13.9" lengthAdjust="spacingAndGlyphs" fill="#222" stroke="#222" stroke-width="0.15">Tram</text>
<rect x="375.0" y="680.456" width="10" height="78.144" fill="url(#dbar)" stroke="none" stroke-width="1"/>
<rect x="375.0" y="680.456" width="10" height="78.144" fill="url(#dbarh)" stroke="none" stroke-width="1"/>
<line x1="380.0" y1="671.75" x2="380.0" y2="686.25" stroke="#404040" stroke-width="0.95"/>
<line x1="377.0" y1="671.75" x2="383.0" y2="671.75" stroke="#404040" stroke-width="1.05"/>
<line x1="377.0" y1="686.25" x2="383.0" y2="686.25" stroke="#404040" stroke-width="1.05"/>
<text x="380.3" y="769.3" font-size="5.5" class="S" text-anchor="middle" textLength="10.6" lengthAdjust="spacingAndGlyphs" fill="#222" stroke="#222" stroke-width="0.15">Dex</text>
<rect x="397.5" y="739.0640000000001" width="10" height="19.535999999999945" fill="url(#dbar)" stroke="none" stroke-width="1"/>
<rect x="397.5" y="739.0640000000001" width="10" height="19.535999999999945" fill="url(#dbarh)" stroke="none" stroke-width="1"/>
<line x1="402.5" y1="735" x2="402.5" y2="740" stroke="#404040" stroke-width="0.95"/>
<line x1="399.5" y1="735" x2="405.5" y2="735" stroke="#404040" stroke-width="1.05"/>
<line x1="399.5" y1="740" x2="405.5" y2="740" stroke="#404040" stroke-width="1.05"/>
<text x="403.7" y="769.3" font-size="5.5" class="S" text-anchor="middle" textLength="21.2" lengthAdjust="spacingAndGlyphs" fill="#222" stroke="#222" stroke-width="0.15">Combo</text>
<text x="93" y="783.3" font-size="7.6" class="S" text-anchor="middle" textLength="33.6" lengthAdjust="spacingAndGlyphs" fill="#111" stroke="#111" stroke-width="0.25">PAPZNK</text>
<text x="229.4" y="783.3" font-size="7.6" class="S" text-anchor="middle" textLength="33.4" lengthAdjust="spacingAndGlyphs" fill="#111" stroke="#111" stroke-width="0.25">PAPSPN</text>
<text x="365.2" y="783.3" font-size="7.6" class="S" text-anchor="middle" textLength="20.2" lengthAdjust="spacingAndGlyphs" fill="#111" stroke="#111" stroke-width="0.25">2365</text>
<text x="77.3" y="634.3" font-size="5.6" class="S" textLength="65.4" lengthAdjust="spacing" fill="#333" stroke="#333" stroke-width="0.12">Dex vs Combo p = 0.04</text>
<text x="77.3" y="643.4" font-size="5.6" class="S" textLength="84" lengthAdjust="spacing" fill="#333" stroke="#333" stroke-width="0.12">Trametinib vs Combo p &lt; 0.01</text>
<text x="195.5" y="634.3" font-size="5.6" class="S" textLength="65" lengthAdjust="spacing" fill="#333" stroke="#333" stroke-width="0.12">Dex vs Combo p &lt; 0.01</text>
<text x="195.5" y="643.4" font-size="5.6" class="S" textLength="84" lengthAdjust="spacing" fill="#333" stroke="#333" stroke-width="0.12">Trametinib vs Combo p = 0.01</text>
<text x="331.25" y="634.3" font-size="5.6" class="S" textLength="64.25" lengthAdjust="spacing" fill="#333" stroke="#333" stroke-width="0.12">Dex vs Combo p &lt; 0.01</text>
<text x="331.25" y="643.4" font-size="5.6" class="S" textLength="81.75" lengthAdjust="spacing" fill="#333" stroke="#333" stroke-width="0.12">Trametinib vs Combo p = 0.2</text>
<text x="29.7" y="679.5" font-size="9" class="S" text-anchor="middle" textLength="58" lengthAdjust="spacingAndGlyphs" fill="#111" stroke="#111" stroke-width="0.1" transform="rotate(-90 29.7 679.5)">Splenic Blasts x 10</text>
<text x="26" y="648.2" font-size="5.5" class="S" text-anchor="middle" fill="#111" transform="rotate(-90 26 648.2)">6</text>
</svg></body></html>
